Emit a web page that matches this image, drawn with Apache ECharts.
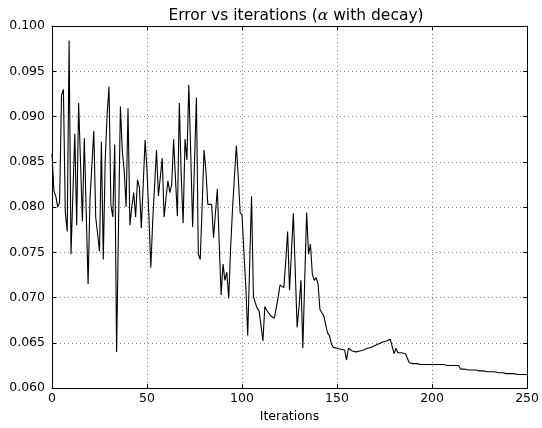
<!DOCTYPE html>
<html>
<head>
<meta charset="utf-8">
<script src="https://cdn.jsdelivr.net/npm/echarts@6/dist/echarts.min.js"></script>
<style>html,body{margin:0;padding:0;background:#fff;}#c{width:542px;height:428px;}</style>
</head>
<body>
<div id="c"></div>
<script>
const titleText = 'Error vs iterations ({a|α} with decay)';
const xAxisName = 'Iterations';
const xTicks = [0, 50, 100, 150, 200, 250];
const yTicks = [0.060, 0.065, 0.070, 0.075, 0.080, 0.085, 0.090, 0.095, 0.100];
// error value per iteration, iterations 0..250
const errorValues = [
0.0859,0.0818,0.0812,0.0800,0.0805,0.0923,0.0930,0.0794,0.0773,0.0984,
0.0748,0.0815,0.0881,0.0780,0.0915,0.0850,0.0784,0.0876,0.0795,0.0715,
0.0809,0.0811,0.0884,0.0789,0.0770,0.0751,0.0872,0.0742,0.0852,0.0902,
0.0933,0.0802,0.0789,0.0869,0.0640,0.0780,0.0911,0.0862,0.0840,0.0800,
0.0909,0.0780,0.0800,0.0816,0.0789,0.0830,0.0822,0.0777,0.0825,0.0874,
0.0840,0.0790,0.0733,0.0785,0.0787,0.0863,0.0812,0.0810,0.0854,0.0789,
0.0810,0.0829,0.0816,0.0825,0.0875,0.0830,0.0790,0.0915,0.0835,0.0782,
0.0875,0.0852,0.0935,0.0860,0.0778,0.0850,0.0921,0.0748,0.0742,0.0800,
0.0863,0.0840,0.0803,0.0801,0.0803,0.0766,0.0767,0.0820,0.0760,0.0703,
0.0737,0.0719,0.0728,0.0699,0.0755,0.0798,0.0833,0.0868,0.0834,0.0794,
0.0791,0.0750,0.0712,0.0658,0.0735,0.0812,0.0701,0.0694,0.0688,0.0685,
0.0683,0.0652,0.0690,0.0686,0.0683,0.0680,0.0678,0.0677,0.0676,0.0700,
0.0714,0.0712,0.0711,0.0740,0.0773,0.0708,0.0750,0.0793,0.0730,0.0667,
0.0690,0.0719,0.0644,0.0720,0.0794,0.0748,0.0759,0.0726,0.0719,0.0722,
0.0715,0.0687,0.0683,0.0680,0.0670,0.0661,0.0658,0.0649,0.0645,0.0644,
0.0644,0.0643,0.0643,0.0642,0.0642,0.0631,0.0644,0.0642,0.0641,0.0640,
0.0640,0.0640,0.0641,0.0641,0.0642,0.0643,0.0644,0.0644,0.0645,0.0646,
0.0647,0.0648,0.0649,0.0650,0.0651,0.0652,0.0652,0.0653,0.0654,0.0655,
0.0638,0.0644,0.0639,0.0639,0.0639,0.0638,0.0638,0.0638,0.0628,0.0627,
0.0627,0.0627,0.0627,0.0627,0.0626,0.0626,0.0626,0.0626,0.0626,0.0626,
0.0626,0.0626,0.0626,0.0626,0.0626,0.0626,0.0626,0.0625,0.0625,0.0625,
0.0625,0.0625,0.0625,0.0625,0.0625,0.0621,0.0621,0.0621,0.0621,0.0620,
0.0620,0.0620,0.0620,0.0620,0.0619,0.0619,0.0619,0.0619,0.0619,0.0618,
0.0618,0.0618,0.0618,0.0618,0.0617,0.0617,0.0617,0.0617,0.0617,0.0616,
0.0616,0.0616,0.0616,0.0616,0.0616,0.0615,0.0615,0.0615,0.0615,0.0615,
0.0615
];
const seriesData = errorValues.map((v, i) => [i, v]);

const FONT = 'DejaVu Sans';
const chart = echarts.init(document.getElementById('c'), null, {renderer: 'canvas'});
const gridLine = {show: true, lineStyle: {color: '#888', type: [1, 3], width: 1}};
const frame = {show: true, onZero: false, lineStyle: {color: '#000', width: 1}};
const tickIn = {show: true, inside: true, length: 4, lineStyle: {color: '#000', width: 1}};
chart.setOption({
  animation: false,
  backgroundColor: '#fff',
  title: {
    text: titleText,
    left: 291, top: 3, textAlign: 'center',
    textStyle: {fontFamily: FONT, fontSize: 15.5, fontWeight: 'normal', color: '#000',
      rich: {a: {fontFamily: 'DejaVu Serif', fontStyle: 'italic', fontSize: 15.5, color: '#000'}}}
  },
  grid: {left: 52, right: 12, top: 26, bottom: 31, containLabel: false},
  xAxis: [{
    type: 'value', min: xTicks[0], max: xTicks[xTicks.length - 1], interval: 50,
    position: 'bottom',
    name: xAxisName, nameLocation: 'middle', nameGap: 20,
    nameTextStyle: {fontFamily: FONT, fontSize: 12.5, color: '#000'},
    axisLine: frame, axisTick: tickIn,
    axisLabel: {fontFamily: FONT, fontSize: 12.5, color: '#000', margin: 4},
    splitLine: gridLine
  }, {
    type: 'value', min: xTicks[0], max: xTicks[xTicks.length - 1], interval: 50,
    position: 'top', axisLine: frame, axisTick: tickIn,
    axisLabel: {show: false}, splitLine: {show: false}
  }],
  yAxis: [{
    type: 'value', min: yTicks[0], max: yTicks[yTicks.length - 1], interval: 0.005,
    position: 'left',
    axisLine: frame, axisTick: tickIn,
    axisLabel: {fontFamily: FONT, fontSize: 12.5, color: '#000', margin: 7,
      formatter: v => v.toFixed(3)},
    splitLine: gridLine
  }, {
    type: 'value', min: yTicks[0], max: yTicks[yTicks.length - 1], interval: 0.005,
    position: 'right', axisLine: frame, axisTick: tickIn,
    axisLabel: {show: false}, splitLine: {show: false}
  }],
  series: [{
    type: 'line', data: seriesData, xAxisIndex: 0, yAxisIndex: 0,
    showSymbol: false, symbol: 'none',
    lineStyle: {color: '#000', width: 1.1}
  }]
});
</script>
</body>
</html>
